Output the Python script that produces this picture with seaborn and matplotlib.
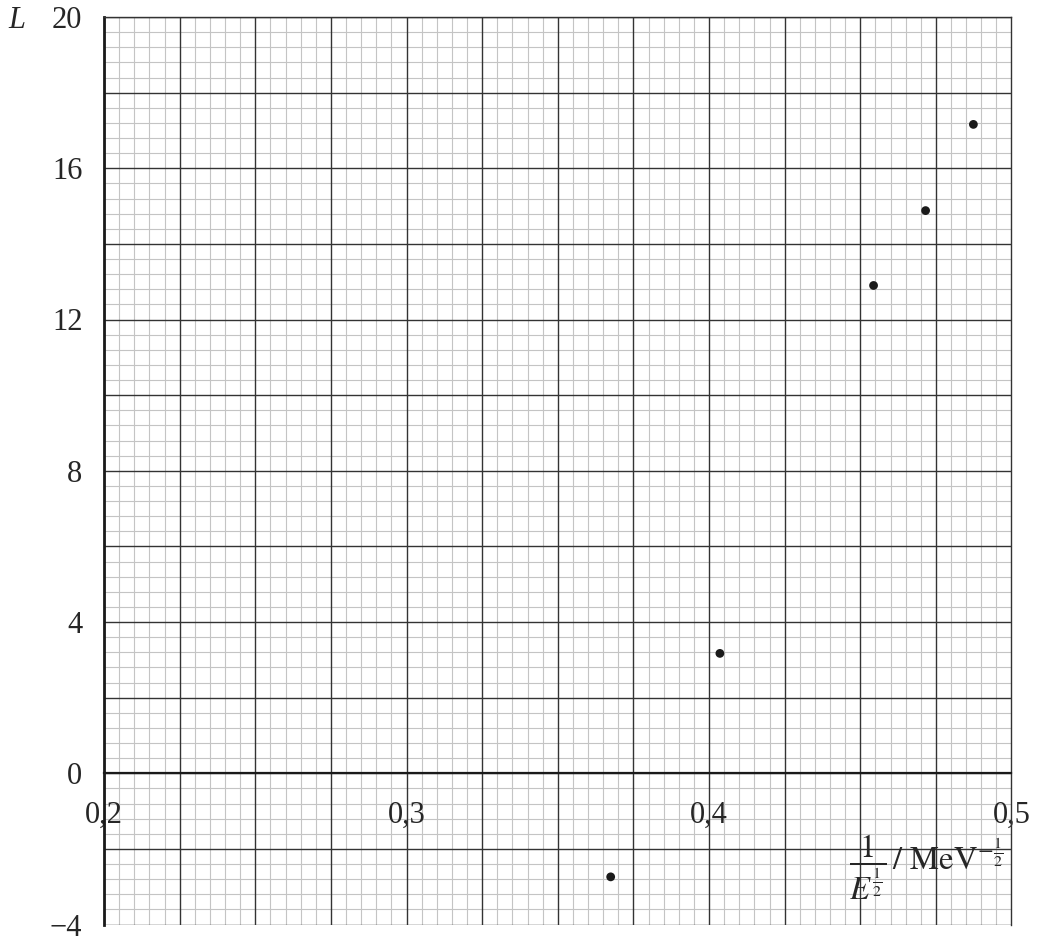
import numpy as np
import pandas as pd
import matplotlib
matplotlib.use("Agg")
import matplotlib.pyplot as plt
import seaborn as sns

# values
inv_sqrt_E = [0.3675, 0.4036, 0.4544, 0.4716, 0.4874]
L_values = [-2.74, 3.17, 12.90, 14.88, 17.16]

x_ticks = [0.2, 0.3, 0.4, 0.5]
x_tick_labels = ["0,2", "0,3", "0,4", "0,5"]
y_ticks = [-4, 0, 4, 8, 12, 16, 20]
y_tick_labels = ["\u22124", "0", "4", "8", "12", "16", "20"]

sns.set_style("white")
plt.rcParams["font.family"] = ["Liberation Serif", "DejaVu Serif"]
plt.rcParams["mathtext.fontset"] = "stix"

df = pd.DataFrame({"x": inv_sqrt_E, "L": L_values})

fig = plt.figure(figsize=(10.39, 9.42), dpi=100)
ax = fig.add_axes([104 / 1039, 17.5 / 942, 907.5 / 1039, 907.5 / 942])
ax.set_xlim(0.2, 0.5)
ax.set_ylim(-4, 20)

# graph paper
for gx in np.arange(0.2, 0.5001, 0.005):
    major = abs(gx / 0.025 - round(gx / 0.025)) < 1e-6
    ax.axvline(gx, color="#333333" if major else "#c4c4c4",
               lw=1.0 if major else 0.8, zorder=1 if major else 0)
for gy in np.arange(-4, 20.001, 0.4):
    major = abs(gy / 2 - round(gy / 2)) < 1e-6
    ax.axhline(gy, color="#333333" if major else "#c4c4c4",
               lw=1.0 if major else 0.8, zorder=1 if major else 0)

sns.scatterplot(data=df, x="x", y="L", ax=ax, color="#1a1a1a", s=40,
                edgecolor="none", zorder=5, legend=False)

for side in ["top", "right"]:
    ax.spines[side].set_color("#333333")
    ax.spines[side].set_linewidth(1.0)
ax.spines["left"].set_color("#1a1a1a")
ax.spines["left"].set_linewidth(2.0)
ax.spines["bottom"].set_position(("data", 0))
ax.spines["bottom"].set_color("#1a1a1a")
ax.spines["bottom"].set_linewidth(1.6)
for s in ax.spines.values():
    s.set_zorder(3)

ax.set_xticks(x_ticks)
ax.set_xticklabels(x_tick_labels)
ax.set_yticks(y_ticks)
ax.set_yticklabels(y_tick_labels)
ax.tick_params(axis="x", direction="out", length=9.5, width=1.4,
               color="#1a1a1a", labelsize=22, pad=10)
ax.tick_params(axis="y", direction="out", length=6.5, width=1.8,
               color="#1a1a1a", labelsize=22, pad=9)
ax.set_xlabel("")
ax.set_ylabel("")

fig.text(17 / 1039, 1 - 21 / 942, "L", fontsize=22, fontstyle="italic",
         ha="center", va="center")
fig.text(926 / 1039, 1 - 867 / 942,
         r"$\dfrac{1}{E^{\frac{1}{2}}}\,/\ \mathrm{MeV}^{-\frac{1}{2}}$",
         fontsize=23.5, ha="center", va="center")

fig.savefig("out.png", dpi=100)
